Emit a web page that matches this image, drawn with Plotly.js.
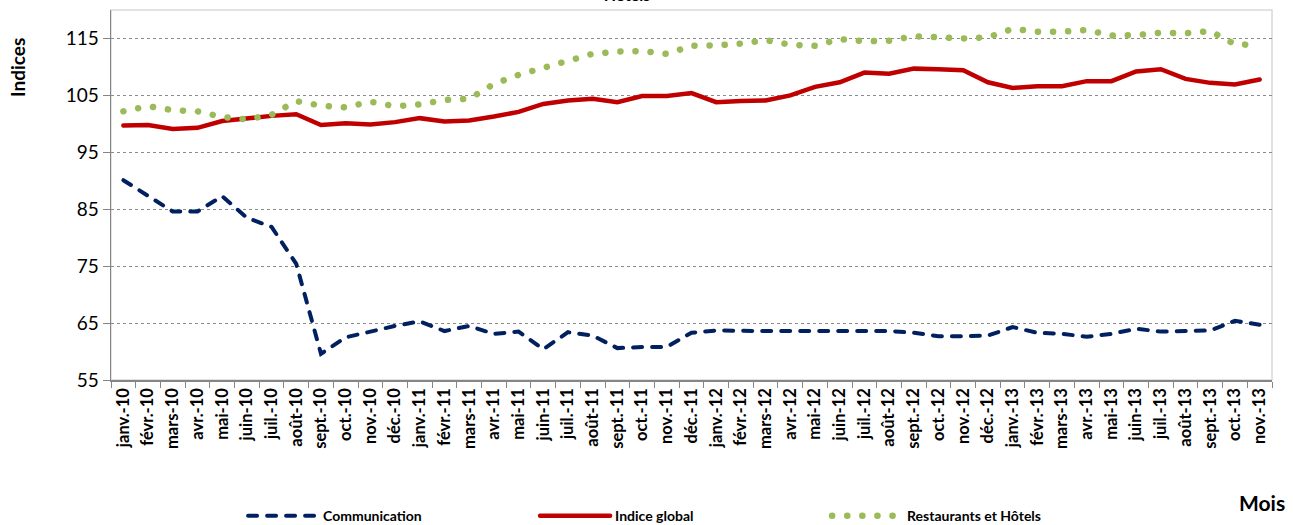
<!DOCTYPE html>
<html>
<head>
<meta charset="utf-8">
<script src="https://cdn.plot.ly/plotly-3.0.1.min.js"></script>
<style>
  html, body { margin: 0; padding: 0; background: #fff; }
  #chart { width: 1293px; height: 525px; }
  path.js-line { stroke-linecap: round; }
</style>
</head>
<body>
<div id="chart"></div>
<script>
const months = [
  "janv.-10","févr.-10","mars-10","avr.-10","mai-10","juin-10","juil.-10","août-10","sept.-10","oct.-10","nov.-10","déc.-10",
  "janv.-11","févr.-11","mars-11","avr.-11","mai-11","juin-11","juil.-11","août-11","sept.-11","oct.-11","nov.-11","déc.-11",
  "janv.-12","févr.-12","mars-12","avr.-12","mai-12","juin-12","juil.-12","août-12","sept.-12","oct.-12","nov.-12","déc.-12",
  "janv.-13","févr.-13","mars-13","avr.-13","mai-13","juin-13","juil.-13","août-13","sept.-13","oct.-13","nov.-13"
];

const communication = [
  90.1, 87.3, 84.6, 84.6, 87.3, 83.5, 81.9, 75.4, 59.6, 62.5, 63.5, 64.5,
  65.3, 63.6, 64.5, 63.1, 63.5, 60.4, 63.4, 62.8, 60.6, 60.8, 60.8, 63.3,
  63.7, 63.6, 63.6, 63.6, 63.6, 63.6, 63.6, 63.6, 63.3, 62.7, 62.7, 62.8,
  64.3, 63.3, 63.1, 62.6, 63.1, 64.0, 63.5, 63.6, 63.7, 65.4, 64.7
];

const indiceGlobal = [
  99.7, 99.8, 99.1, 99.3, 100.5, 101.0, 101.4, 101.7, 99.8, 100.1, 99.9, 100.3,
  101.0, 100.4, 100.6, 101.3, 102.1, 103.5, 104.1, 104.4, 103.8, 104.9, 104.9, 105.4,
  103.8, 104.0, 104.1, 105.0, 106.5, 107.3, 109.0, 108.8, 109.7, 109.6, 109.4, 107.3,
  106.3, 106.6, 106.6, 107.5, 107.5, 109.2, 109.6, 107.9, 107.2, 106.9, 107.8
];

const restaurantsHotels = [
  102.2, 103.1, 102.4, 102.2, 101.2, 100.8, 101.6, 104.0, 103.2, 102.9, 103.9, 103.1,
  103.4, 104.2, 104.4, 107.0, 108.6, 109.9, 111.2, 112.3, 112.7, 112.8, 112.3, 113.7,
  113.8, 114.1, 114.7, 113.9, 113.7, 114.9, 114.5, 114.6, 115.4, 115.2, 115.0, 115.2,
  116.7, 116.2, 116.2, 116.5, 115.5, 115.6, 116.0, 115.9, 116.3, 114.0, 113.8
];

const seriesNames = ["Communication", "Indice global", "Restaurants et Hôtels"];
const yTicks = [55, 65, 75, 85, 95, 105, 115];

const FONT = "Lato, 'Open Sans', sans-serif";

const traces = [
  {
    x: months, y: communication, name: seriesNames[0], type: "scatter", mode: "lines",
    line: { color: "#002060", width: 4, dash: "9px,10px" }
  },
  {
    x: months, y: indiceGlobal, name: seriesNames[1], type: "scatter", mode: "lines",
    line: { color: "#C00000", width: 4.5 }
  },
  {
    x: months, y: restaurantsHotels, name: seriesNames[2], type: "scatter", mode: "lines",
    line: { color: "#9BBB59", width: 6.5, dash: "0.1px,15px" }
  }
];

const layout = {
  width: 1293, height: 525,
  margin: { l: 111, r: 21, t: 10, b: 145 },
  paper_bgcolor: "#ffffff", plot_bgcolor: "#ffffff",
  font: { family: FONT, color: "#000000" },
  showlegend: true,
  title: {
    text: "Hôtels",
    font: { family: FONT, size: 16, weight: "bold", color: "#000000" },
    xref: "container", yref: "container",
    x: 0.485, xanchor: "center",
    y: 0.999, yanchor: "bottom"
  },
  xaxis: {
    type: "category",
    range: [-0.5, 46.5],
    showline: true, linecolor: "#868686", linewidth: 1.5,
    ticks: "outside", tickson: "boundaries", ticklen: 6, tickcolor: "#868686", tickwidth: 1,
    tickangle: -90,
    tickfont: { family: FONT, size: 16.5, weight: "bold", color: "#000000" },
    showgrid: false, zeroline: false, automargin: false
  },
  yaxis: {
    range: [55, 120],
    tickvals: yTicks,
    showline: true, linecolor: "#868686", linewidth: 1.5,
    ticks: "outside", ticklen: 7, tickcolor: "#868686", tickwidth: 1,
    tickfont: { family: FONT, size: 19, color: "#000000" },
    showgrid: true, gridcolor: "#8c8c8c", griddash: "dot", gridwidth: 1,
    zeroline: false, automargin: false
  },
  legend: {
    orientation: "h",
    x: 0.188, xanchor: "left", xref: "container",
    y: 0.017, yanchor: "middle", yref: "container",
    font: { family: FONT, size: 14, weight: "bold", color: "#000000" },
    itemwidth: 70,
    entrywidth: 207, entrywidthmode: "pixels",
    bgcolor: "rgba(0,0,0,0)"
  },
  shapes: [
    {
      type: "rect", xref: "paper", yref: "paper", x0: 0, x1: 1, y0: 0, y1: 1,
      line: { color: "#d9d9d9", width: 1.5 }, layer: "below"
    }
  ],
  annotations: [
    {
      text: "Indices", xref: "paper", yref: "paper",
      x: (18 - 111) / 1161, y: (380 - 68) / 370,
      xanchor: "center", yanchor: "middle", textangle: -90, showarrow: false,
      font: { family: FONT, size: 19, weight: "bold", color: "#000000" }
    },
    {
      text: "Mois", xref: "paper", yref: "paper", x: 0.991, y: -0.33,
      xanchor: "center", yanchor: "middle", showarrow: false,
      font: { family: FONT, size: 21, weight: "bold", color: "#000000" }
    }
  ]
};

Plotly.newPlot("chart", traces, layout, { displayModeBar: false, staticPlot: true });
</script>
</body>
</html>
